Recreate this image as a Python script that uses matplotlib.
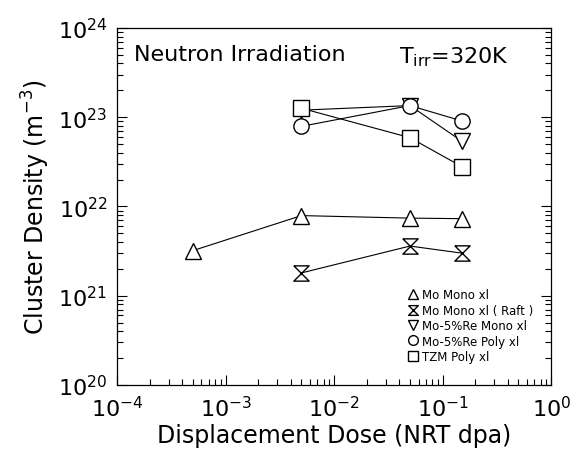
import matplotlib.pyplot as plt
import numpy as np

# Displacement dose (NRT dpa) and cluster density (m^-3)
mo_mono_dose = [5e-4, 5e-3, 0.05, 0.15]
mo_mono_dens = [3.2e21, 7.9e21, 7.4e21, 7.3e21]

mo_raft_dose = [5e-3, 0.05, 0.15]
mo_raft_dens = [1.8e21, 3.6e21, 3.0e21]

more_mono_dose = [5e-3, 0.05, 0.15]
more_mono_dens = [1.2e23, 1.35e23, 5.4e22]

more_poly_dose = [5e-3, 0.05, 0.15]
more_poly_dens = [7.9e22, 1.35e23, 9.1e22]

tzm_dose = [5e-3, 0.05, 0.15]
tzm_dens = [1.26e23, 5.9e22, 2.8e22]

labels = ['Mo Mono xl', 'Mo Mono xl ( Raft )', 'Mo-5%Re Mono xl',
          'Mo-5%Re Poly xl', 'TZM Poly xl']

# hourglass marker for the raft data
hourglass = [(-1, 1), (1, 1), (-1, -1), (1, -1), (-1, 1)]

fig = plt.figure(figsize=(5.75, 4.6), dpi=100)
ax = fig.add_axes([0.2035, 0.161, 0.755, 0.776])

style = dict(color='black', linewidth=0.8, markerfacecolor='white',
             markeredgecolor='black', markeredgewidth=1.0)

ax.plot(mo_mono_dose, mo_mono_dens, marker='^', markersize=12, label=labels[0], **style)
ax.plot(mo_raft_dose, mo_raft_dens, marker=hourglass, markersize=11, label=labels[1], **style)
ax.plot(more_mono_dose, more_mono_dens, marker='v', markersize=12, label=labels[2], **style)
ax.plot(more_poly_dose, more_poly_dens, marker='o', markersize=11, label=labels[3], **style)
ax.plot(tzm_dose, tzm_dens, marker='s', markersize=11, label=labels[4], **style)

ax.set_xscale('log')
ax.set_yscale('log')
ax.set_xlim(1e-4, 1e0)
ax.set_ylim(1e20, 1e24)

ax.tick_params(which='both', direction='in', top=False, right=True,
               labelsize=16, width=0.8)
ax.tick_params(which='major', length=7, pad=7)
ax.tick_params(which='minor', length=4)
for s in ax.spines.values():
    s.set_linewidth(0.9)

ax.set_xlabel('Displacement Dose (NRT dpa)', fontsize=17, labelpad=2)
ax.set_ylabel('Cluster Density (m$^{-3}$)', fontsize=17, labelpad=4)

ax.text(0.04, 0.955, 'Neutron Irradiation', transform=ax.transAxes,
        fontsize=16, va='top', ha='left')
ax.text(0.65, 0.955, r'T$_{\rm irr}$=320K', transform=ax.transAxes,
        fontsize=16, va='top', ha='left')

leg = ax.legend(loc='lower right', bbox_to_anchor=(0.975, 0.042), frameon=False,
                fontsize=8.5, handlelength=1.0, handletextpad=0.3,
                labelspacing=0.2, borderaxespad=0.2)
for h in leg.legend_handles:
    h.set_linestyle('none')
    h.set_markersize(7)

plt.savefig('out.png', dpi=100)
